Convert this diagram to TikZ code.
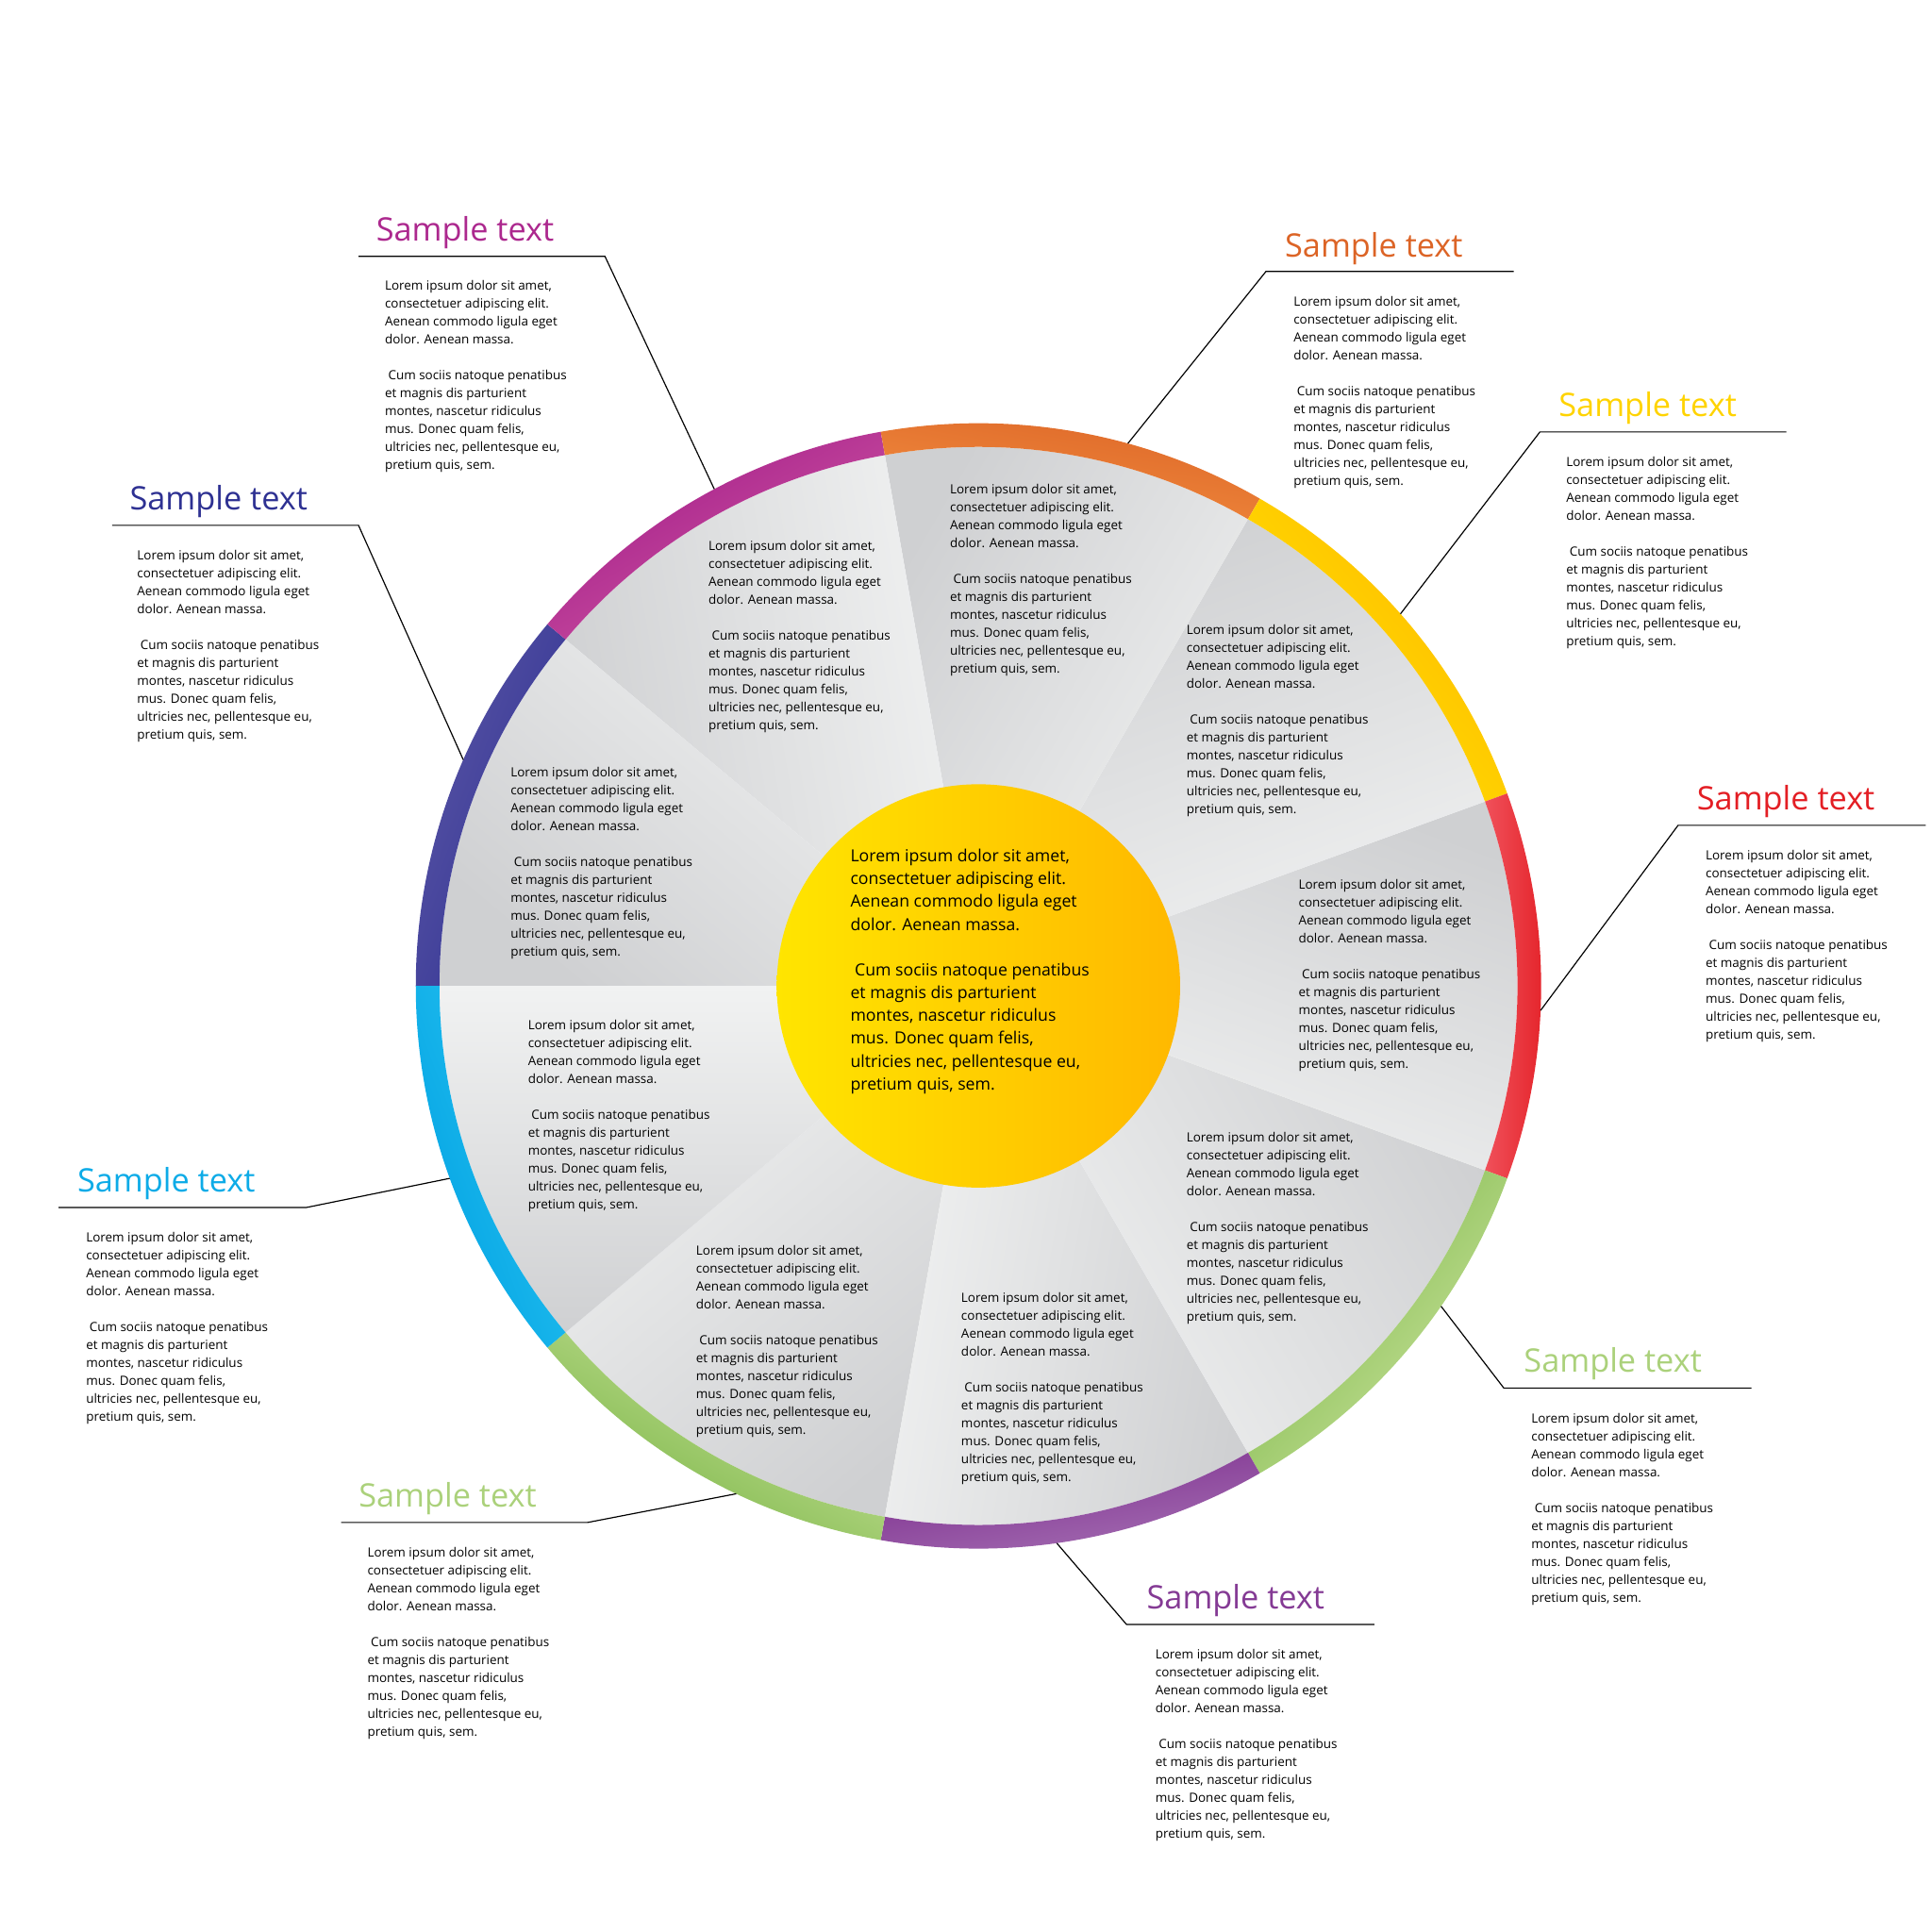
\documentclass[tikz,border=0pt]{standalone}
\usepackage{fontspec}
\setmainfont{Open Sans}
\usetikzlibrary{calc}
\definecolor{navyA}{HTML}{2E3192}\definecolor{navyB}{HTML}{5A55A5}
\definecolor{magA}{HTML}{D25AA5}\definecolor{magB}{HTML}{A21C88}
\definecolor{orA}{HTML}{F28E40}\definecolor{orB}{HTML}{DC6426}
\definecolor{yeA}{HTML}{FFE500}\definecolor{yeB}{HTML}{FFB800}
\definecolor{reA}{HTML}{F0505A}\definecolor{reB}{HTML}{E31E24}
\definecolor{grA}{HTML}{78B443}\definecolor{grB}{HTML}{CDE5A0}
\definecolor{puA}{HTML}{7B2B8C}\definecolor{puB}{HTML}{A874B6}
\definecolor{cyA}{HTML}{00A0E2}\definecolor{cyB}{HTML}{2BC6F2}
\definecolor{gl}{HTML}{F1F2F2}\definecolor{gd}{HTML}{CFD0D2}
\newcommand{\loremtxt}{Lorem ipsum dolor sit amet,\\consectetuer adipiscing elit.\\Aenean commodo ligula eget\\dolor. Aenean massa.\\[14.4pt]
\ Cum sociis natoque penatibus\\et magnis dis parturient\\montes, nascetur ridiculus\\mus. Donec quam felis,\\ultricies nec, pellentesque eu,\\pretium quis, sem.}
\newcommand{\ringseg}[4]{\shade[left color=#3,right color=#4,shading angle={(#1+#2)/2+90}] (#1:452) arc[start angle=#1,end angle=#2,radius=452] -- (#2:433) arc[start angle=#2,end angle=#1,radius=433] -- cycle;}
\newcommand{\graywedge}[2]{\shade[left color=gl,right color=gd,shading angle={#1+180}] (0,0) -- (#1:433) arc[start angle=#1,end angle=#2,radius=433] -- cycle;}
\tikzset{
 body/.style={font=\fontsize{10.2}{14.4}\selectfont,align=left,anchor=north west,inner sep=0pt},
 title/.style={font=\fontsize{26}{28}\selectfont,anchor=south west,inner sep=0pt},
 lead/.style={line width=0.9pt,black}
}
\begin{document}
\begin{tikzpicture}[x=1pt,y=1pt]
\useasboundingbox (0,0) rectangle (1552,-1552);
\begin{scope}[shift={(786,-792)}]
\foreach \s in {-140,-100,...,180}{\pgfmathtruncatemacro\e{\s+40}\graywedge{\s}{\e}}
\ringseg{140}{180}{navyA}{navyB}
\ringseg{100}{140}{magA}{magB}
\ringseg{60}{100}{orA}{orB}
\ringseg{20}{60}{yeA}{yeB}
\ringseg{-20}{20}{reA}{reB}
\ringseg{-60}{-20}{grA}{grB}
\ringseg{-100}{-60}{puA}{puB}
\ringseg{-140}{-100}{grB}{grA}
\ringseg{180}{220}{cyB}{cyA}
\shade[left color=yeA,right color=yeB] (0,0) circle[radius=162];
\coordinate (r1) at (118:452);
\coordinate (r2) at (74.6:452);
\coordinate (r3) at (41.4:452);
\coordinate (r4) at (-2.5:452);
\coordinate (r5) at (-34.7:452);
\coordinate (r6) at (-82:452);
\coordinate (r7) at (-115.5:452);
\coordinate (r8) at (-160:452);
\coordinate (r9) at (156.3:452);
\end{scope}
% wedge texts
\node[body] (w1) at (410,-616) {\loremtxt};
\node[body] (w2) at (569,-434) {\loremtxt};
\node[body] (w3) at (763,-389) {\loremtxt};
\node[body] (w4) at (953,-502) {\loremtxt};
\node[body] (w5) at (1043,-706) {\loremtxt};
\node[body] (w6) at (953,-909) {\loremtxt};
\node[body] (w7) at (772,-1038) {\loremtxt};
\node[body] (w8) at (559,-1000) {\loremtxt};
\node[body] (w9) at (424,-819) {\loremtxt};
\node[align=left,anchor=north west,inner sep=0pt,font=\fontsize{13.4}{18.3}\selectfont] (ctr) at (683,-682) {Lorem ipsum dolor sit amet,\\consectetuer adipiscing elit.\\Aenean commodo ligula eget\\dolor. Aenean massa.\\[18.3pt]
\ Cum sociis natoque penatibus\\et magnis dis parturient\\montes, nascetur ridiculus\\mus. Donec quam felis,\\ultricies nec, pellentesque eu,\\pretium quis, sem.};
% callouts
\node[title,text=magB!80!magA] (t1) at (302,-200) {Sample text};
\node[title,text=orB] (t2) at (1032,-213) {Sample text};
\node[title,text=yeA!60!yeB] (t3) at (1252,-341) {Sample text};
\node[title,text=reB] (t4) at (1363,-657) {Sample text};
\node[title,text=grA!40!grB] (t5) at (1224,-1109) {Sample text};
\node[title,text=puA!80!puB] (t6) at (921,-1299) {Sample text};
\node[title,text=grA!40!grB] (t7) at (288,-1217) {Sample text};
\node[title,text=cyA!70!cyB] (t8) at (62,-964) {Sample text};
\node[title,text=navyA] (t9) at (104,-416) {Sample text};
\coordinate (a1) at (288,-206); \coordinate (b1) at (486,-206);
\coordinate (a2) at (1017,-218); \coordinate (b2) at (1216,-218);
\coordinate (a3) at (1237,-347); \coordinate (b3) at (1435,-347);
\coordinate (a4) at (1348,-663); \coordinate (b4) at (1547,-663);
\coordinate (a5) at (1208,-1115); \coordinate (b5) at (1407,-1115);
\coordinate (a6) at (905,-1305); \coordinate (b6) at (1104,-1305);
\coordinate (a7) at (274,-1223); \coordinate (b7) at (472,-1223);
\coordinate (a8) at (47,-970); \coordinate (b8) at (246,-970);
\coordinate (a9) at (90,-422); \coordinate (b9) at (288,-422);
\draw[lead] (a1) -- (b1) -- (r1);
\draw[lead] (b2) -- (a2) -- (r2);
\draw[lead] (b3) -- (a3) -- (r3);
\draw[lead] (b4) -- (a4) -- (r4);
\draw[lead] (b5) -- (a5) -- (r5);
\draw[lead] (b6) -- (a6) -- (r6);
\draw[lead] (a7) -- (b7) -- (r7);
\draw[lead] (a8) -- (b8) -- (r8);
\draw[lead] (a9) -- (b9) -- (r9);
\node[body] (o1) at (309,-225) {\loremtxt};
\node[body] (o2) at (1039,-238) {\loremtxt};
\node[body] (o3) at (1258,-367) {\loremtxt};
\node[body] (o4) at (1370,-683) {\loremtxt};
\node[body] (o5) at (1230,-1135) {\loremtxt};
\node[body] (o6) at (928,-1325) {\loremtxt};
\node[body] (o7) at (295,-1243) {\loremtxt};
\node[body] (o8) at (69,-990) {\loremtxt};
\node[body] (o9) at (110,-442) {\loremtxt};
\end{tikzpicture}
\end{document}
